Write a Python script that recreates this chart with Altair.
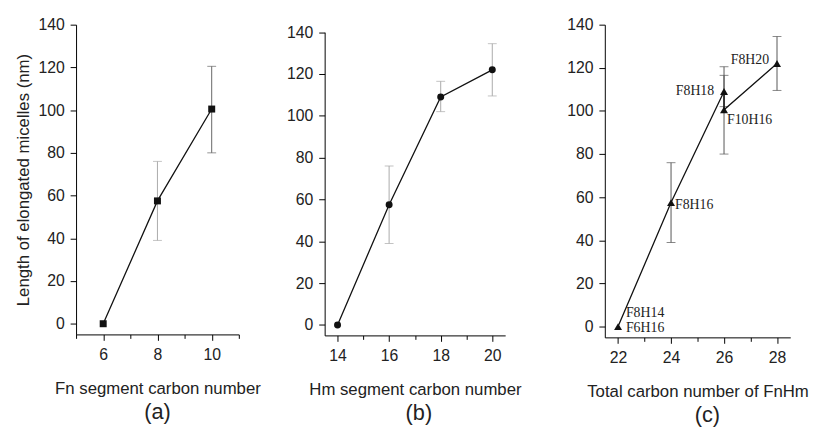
import altair as alt
import pandas as pd

SANS = "Liberation Sans"
SERIF = "Liberation Serif"

# ---------------- data ----------------
# (a) Fn segment carbon number
a_x = [6, 8, 10]
a_y = [0, 57.5, 100.5]
a_lo = [None, 39, 80]
a_hi = [None, 76, 120.5]

# (b) Hm segment carbon number
b_x = [14, 16, 18, 20]
b_y = [0, 57.5, 109, 122]
b_lo = [None, 39, 102, 109.5]
b_hi = [None, 76, 116.5, 134.5]

# (c) Total carbon number of FnHm (line follows this order)
c_x = [22, 24, 26, 26, 28]
c_y = [0, 57.5, 109, 100.5, 122]
c_lo = [None, 39, 102, 80, 109.5]
c_hi = [None, 76, 116.5, 120.5, 134.5]

lab_text = ["F8H14", "F6H16", "F8H16", "F8H18", "F10H16", "F8H20"]
lab_x = [22, 22, 24, 26, 26, 28]
lab_y = [0, 0, 57.5, 109, 100.5, 122]

y_ticks = list(range(0, 141, 10))
a_ticks = [5, 6, 7, 8, 9, 10, 11]
b_ticks = [14, 15, 16, 17, 18, 19, 20]
c_ticks = [22, 23, 24, 25, 26, 27, 28]


def panel(x, y, lo, hi, xdomain, xticks, width, height, shape, msize,
          ebcolor, xtitle, letter, ytitle=None, xrange=None, yrange=None,
          letter_dx=0, extra=None):
    df = pd.DataFrame({"x": x, "y": y, "lo": lo, "hi": hi,
                       "i": list(range(len(x)))})
    xs = dict(domain=xdomain, nice=False, zero=False)
    if xrange:
        xs["range"] = xrange
    ys = dict(domain=[-5, 140], nice=False, zero=False)
    if yrange:
        ys["range"] = yrange
    xaxis = alt.Axis(
        values=xticks, title=xtitle,
        labelExpr="datum.value % 2 === 0 ? datum.label : ''",
        tickSize={"condition": {"test": "datum.value % 2 === 0", "value": 6},
                  "value": 4},
    )
    yaxis = alt.Axis(
        values=y_ticks, title=ytitle,
        labelExpr="datum.value % 20 === 0 ? datum.label : ''",
        tickSize={"condition": {"test": "datum.value % 20 === 0", "value": 6},
                  "value": 4},
    )
    X = alt.X("x:Q", scale=alt.Scale(**xs), axis=xaxis)
    base = alt.Chart(df)
    err = base.transform_filter("isValid(datum.lo)")
    rule = err.mark_rule(strokeWidth=1).encode(
        x=X, y=alt.Y("lo:Q", scale=alt.Scale(**ys), axis=yaxis), y2="hi:Q",
        color=ebcolor)
    cap_lo = err.mark_tick(orient="horizontal", size=9, thickness=1).encode(
        x=X, y=alt.Y("lo:Q"), color=ebcolor)
    cap_hi = err.mark_tick(orient="horizontal", size=9, thickness=1).encode(
        x=X, y=alt.Y("hi:Q"), color=ebcolor)
    line = base.mark_line(color="#111", strokeWidth=1.3).encode(
        x=X, y=alt.Y("y:Q"), order="i:Q")
    pts = base.mark_point(shape=shape, filled=True, size=msize, color="#111",
                          opacity=1).encode(x=X, y=alt.Y("y:Q"))
    layers = [rule, cap_lo, cap_hi, line, pts]
    if extra:
        layers += extra(X)
    return alt.layer(*layers).properties(
        width=width, height=height,
        title=alt.TitleParams(letter, orient="bottom", anchor="middle",
                              fontSize=22, font=SANS, fontWeight="normal",
                              color="#222", offset=6, dx=letter_dx),
    )


lab_df = pd.DataFrame({"x": lab_x, "y": lab_y, "t": lab_text})
label_style = {
    "F8H14": ("left", 8, -14),
    "F6H16": ("left", 8, 1),
    "F8H16": ("left", 4, 2),
    "F8H18": ("right", -10, 0),
    "F10H16": ("left", 3, 10),
    "F8H20": ("right", -8, -3),
}


def labels(X):
    out = []
    for name, (al, dx, dy) in label_style.items():
        out.append(
            alt.Chart(lab_df).transform_filter(f"datum.t === '{name}'")
            .mark_text(align=al, baseline="middle", dx=dx, dy=dy, font=SERIF,
                       fontSize=14, color="#222")
            .encode(x=X, y=alt.Y("y:Q"), text="t:N")
        )
    return out


pa = panel(a_x, a_y, a_lo, a_hi, [5, 11], a_ticks, 165, 314, "square", 50,
           alt.condition("datum.x === 8", alt.value("#aaaaaa"), alt.value("#666666")),
           "Fn segment carbon number", "(a)",
           ytitle="Length of elongated micelles (nm)")
pb = panel(b_x, b_y, b_lo, b_hi, [13.5, 20.5], b_ticks, 197, 315, "circle", 50,
           alt.value("#aaaaaa"), "Hm segment carbon number", "(b)",
           xrange=[0, 183], yrange=[315, 7.6], letter_dx=-3)
pc = panel(c_x, c_y, c_lo, c_hi, [21.5, 28.5], c_ticks, 188, 317,
           "triangle-up", 65, alt.value("#555555"),
           "Total carbon number of FnHm", "(c)", letter_dx=10, extra=labels)

chart = alt.hconcat(pa, pb, pc, spacing=87, bounds="flush").properties(
    padding={"left": 5, "top": 5, "right": 0, "bottom": 0}
).configure_view(stroke="transparent").configure_axis(
    grid=False, domainColor="#000", tickColor="#000", domainWidth=1,
    tickWidth=1, labelFont=SANS, labelFontSize=16, labelColor="#222",
    titleFont=SANS, titleFontSize=17, titleFontWeight="normal",
    titleColor="#222", labelPadding=6,
).configure_axisX(titlePadding=19).configure_axisY(titlePadding=6)

chart.save("out.html", embed_options={"renderer": "svg", "actions": False})
